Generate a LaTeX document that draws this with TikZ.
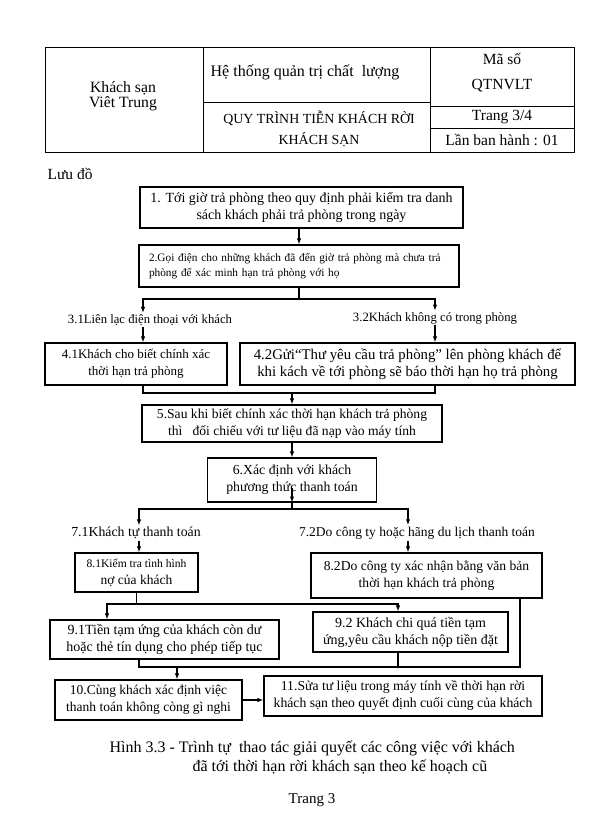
\documentclass[tikz,border=0pt]{standalone}
\usepackage{fontspec}
\setmainfont{Liberation Serif}
\usetikzlibrary{arrows.meta}
\begin{document}
\begin{tikzpicture}[x=1pt,y=-1pt,line width=1.2pt,>={Latex[length=6pt,width=4.5pt]},
  box node/.style={draw,align=center,inner sep=0pt,font=\fontsize{13.8}{17}\selectfont},
  tag node/.style={inner sep=1pt,font=\fontsize{12.7}{14}\selectfont},
  head node/.style={inner sep=0pt,font=\fontsize{15.5}{17}\selectfont}]
\useasboundingbox[fill=white] (0,0) rectangle (604,817);
\draw[line width=0.9pt] (45,47) rectangle (574,152) (203,47) -- (203,152) (430,47) -- (430,152)
  (203,102) -- (430,102) (430,106) -- (574,106) (430,128) -- (574,128);
\node[head node,font=\fontsize{15.7}{17}\selectfont] (hotel) at (123,88) {Khách sạn};
\node[head node,font=\fontsize{15.7}{17}\selectfont] (hotel2) at (123,104) {Viêt Trung};
\node[head node,font=\fontsize{16}{18}\selectfont] (sys) at (305,72) {Hệ thống quản trị chất\ \ lượng};
\node[head node,font=\fontsize{13.9}{15}\selectfont] (proc) at (319,118) {QUY TRÌNH TIỄN KHÁCH RỜI};
\node[head node,font=\fontsize{13.9}{15}\selectfont] (proc2) at (319,140) {KHÁCH SẠN};
\node[head node] (code) at (502,59) {Mã số};
\node[head node] (code2) at (502,86) {QTNVLT};
\node[head node] (page) at (502,117) {Trang 3/4};
\node[head node] (issue) at (502,140) {Lần ban hành : 01};
\node[head node,anchor=west] (chart) at (47,174) {Lưu đồ};

\node[box node,minimum width=323pt,minimum height=41pt,font=\fontsize{14}{17}\selectfont] (1) at (301.5,207.5) {1. Tới giờ trả phòng theo quy định phải kiểm tra danh\\sách khách phải trả phòng trong ngày};
\node[box node,minimum width=320pt,minimum height=42pt,text width=300pt,align=left,inner xsep=10pt,font=\fontsize{11.3}{15}\selectfont] (2) at (299,266) {2.Gọi điện cho những khách đã đến giờ trả phòng mà chưa trả\\phòng để xác minh hạn trả phòng với họ};
\node[tag node] (31) at (150,320) {3.1Liên lạc điện thoại với khách};
\node[tag node] (32) at (435,318) {3.2Khách không có trong phòng};
\node[box node,minimum width=182pt,minimum height=42pt,font=\fontsize{13}{17}\selectfont] (41) at (136,364) {4.1Khách cho biết chính xác\\thời hạn trả phòng};
\node[box node,minimum width=335pt,minimum height=42pt,font=\fontsize{14.8}{17.5}\selectfont] (42) at (407.5,364) {4.2Gửi“Thư yêu cầu trả phòng” lên phòng khách để\\khi kách về tới phòng sẽ báo thời hạn họ trả phòng};
\node[box node,minimum width=300pt,minimum height=37pt,font=\fontsize{13.6}{17}\selectfont] (5) at (292,423.5) {5.Sau khi biết chính xác thời hạn khách trả phòng\\thì\ \ \ đối chiếu với tư liệu đã nạp vào máy tính};
\node[box node,minimum width=169pt,minimum height=44pt] (6) at (292,480) {6.Xác định với khách\\phương thức thanh toán};
\node[tag node,font=\fontsize{13.8}{15}\selectfont] (71) at (136,533) {7.1Khách tự thanh toán};
\node[tag node,font=\fontsize{13.5}{15}\selectfont] (72) at (417,533) {7.2Do công ty hoặc hãng du lịch thanh toán};
\node[box node,minimum width=123pt,minimum height=39pt,font=\fontsize{13.5}{17}\selectfont] (81) at (136.5,572.5) {{\fontsize{11.6}{14}\selectfont 8.1Kiểm tra tình hình}\\nợ của khách};
\node[box node,minimum width=231pt,minimum height=45pt,font=\fontsize{13.6}{17}\selectfont] (82) at (426.5,575.5) {8.2Do công ty xác nhận bằng văn bản\\thời hạn khách trả phòng};
\node[box node,minimum width=229pt,minimum height=39pt,font=\fontsize{14}{17}\selectfont] (91) at (164.5,639.5) {9.1Tiền tạm ứng của khách còn dư\\hoặc thẻ tín dụng cho phép tiếp tục};
\node[box node,minimum width=195pt,minimum height=40pt,font=\fontsize{14}{17}\selectfont] (92) at (410.5,632) {9.2 Khách chi quá tiền tạm\\ứng,yêu cầu khách nộp tiền đặt};
\node[box node,minimum width=187pt,minimum height=40pt,font=\fontsize{13.5}{17}\selectfont] (10) at (148.5,700) {10.Cùng khách xác định việc\\thanh toán không còng gì nghi};
\node[box node,minimum width=278pt,minimum height=40pt,font=\fontsize{13.7}{17}\selectfont] (11) at (403,696) {11.Sửa tư liệu trong máy tính về thời hạn rời\\khách sạn theo quyết định cuối cùng của khách};
\node[head node,anchor=west,font=\fontsize{16}{18}\selectfont] (cap) at (109,748) {Hình 3.3 - Trình tự\ \ thao tác giải quyết các công việc với khách};
\node[head node,anchor=west,font=\fontsize{16}{18}\selectfont] (cap2) at (192,767) {đã tới thời hạn rời khách sạn theo kế hoạch cũ};
\node[head node,font=\fontsize{15}{17}\selectfont] (foot) at (312,800) {Trang 3};

\coordinate (a31) at (143,0);
\coordinate (a71) at (139,0);
\coordinate (a72) at (408,0);
\coordinate (j2) at (299,299);
\coordinate (j4) at (292,393);
\coordinate (j6) at (292,509);
\coordinate (k1) at (107,604);
\coordinate (k2) at (398,604);
\coordinate (m1) at (139,667);
\coordinate (m) at (177,667);
\coordinate (m3) at (520,667);

\draw[->] (1.south -| 2.north) -- (2.north);
\draw (2.south) -- (j2);
\draw[->] (j2) -| (31.north -| a31);
\draw[->] (j2) -| (32.north);
\draw[->] (31.south -| a31) -- (41.north -| a31);
\draw[->] (32.south) -- (32.south |- 42.north);
\draw (41.south -| a31) |- (j4) -| (42.south -| 32);
\draw[->] (j4) -- (5.north);
\draw[->] (5) -- (6);
\draw[->] ([yshift=15pt]6.south) -- (6.south);
\draw (6.south) -- (j6);
\draw[->] (j6) -| (71.north -| a71);
\draw[->] (j6) -| (72.north -| a72);
\draw[->] (71.south -| a71) -- (81.north -| a71);
\draw[->] (72.south -| a72) -- (82.north -| a72);
\draw (81.south) -- (81.south |- k1);
\draw[->] (81.south |- k1) -- (k1) -- (k1 |- 91.north);
\draw[->] (81.south |- k1) -- (k2) -- (k2 |- 92.north);
\draw (m1 |- 91.south) -- (m1) -- (m3) -- (m3 |- 82.south);
\draw (k2 |- 92.south) -- (k2 |- m1);
\draw[->] (m) -- (m |- 10.north);
\draw[->] (10.east) -- (10.east -| 11.west);
\end{tikzpicture}
\end{document}
